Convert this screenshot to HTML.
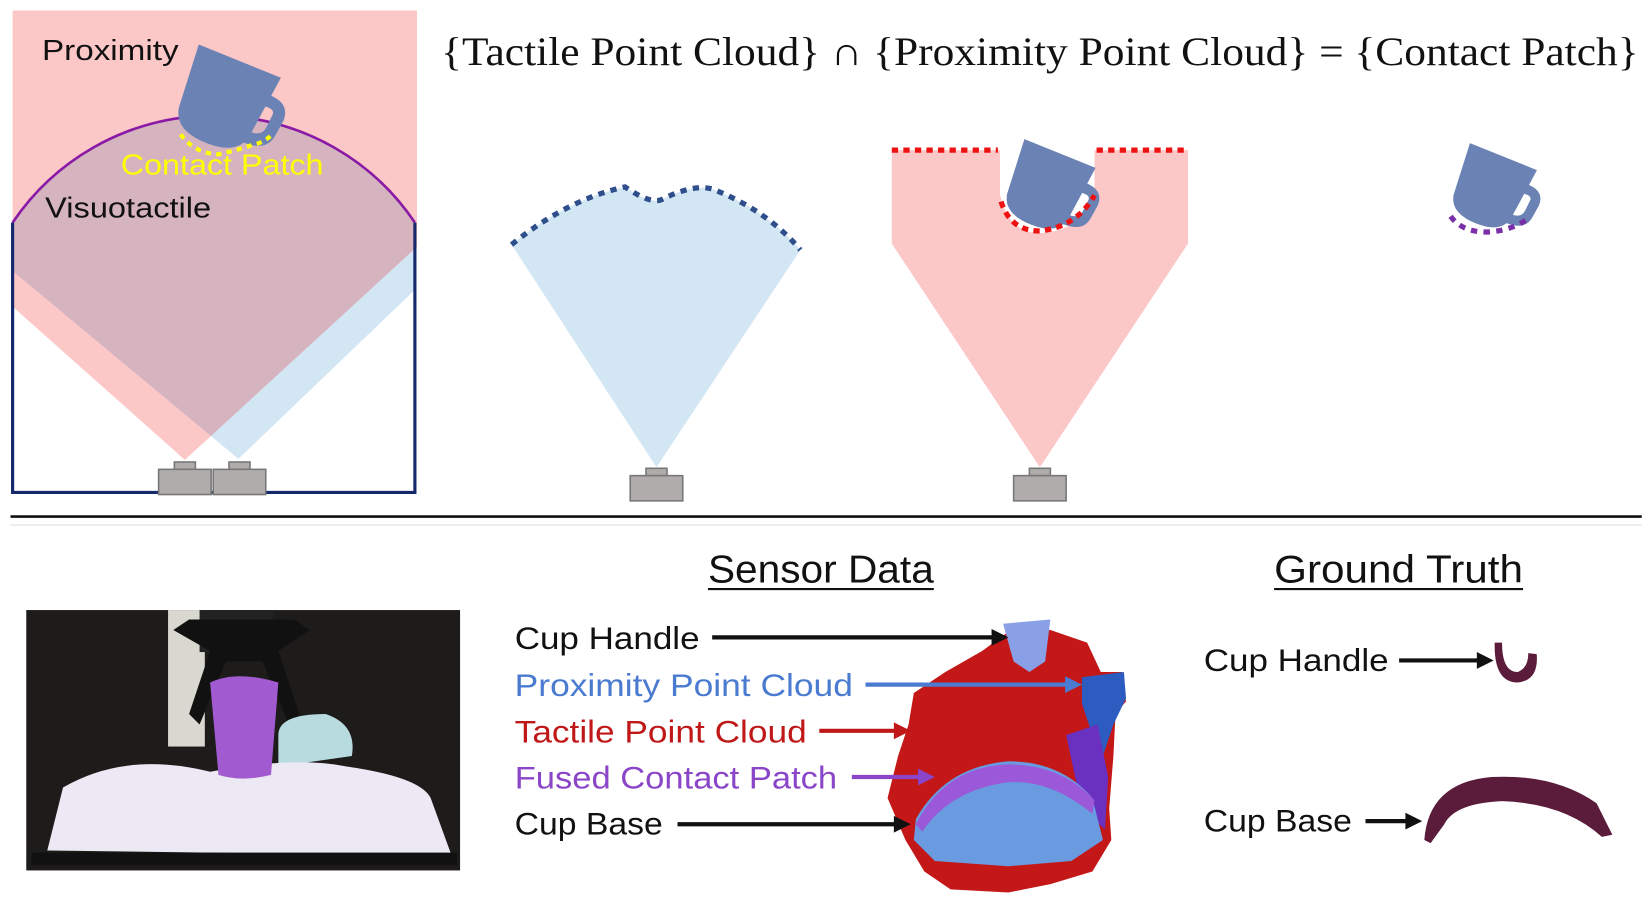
<!DOCTYPE html>
<html><head><meta charset="utf-8"><style>
html,body{margin:0;padding:0;background:#fff;}
svg{display:block;}
text{font-family:"Liberation Sans",sans-serif;}
</style></head><body>
<svg width="1647" height="903" viewBox="0 0 1568 860" preserveAspectRatio="none" xmlns="http://www.w3.org/2000/svg">
<defs>
<g id="mug">
  <path d="M-42 -42 L44 -42 L37 22 Q33 44 0 44 Q-33 44 -37 22 Z" fill="#6b82b4"/>
  <path d="M36 -22 Q62 -24 62 -4 L60 12 Q58 30 34 30 L36 18 Q48 18 49 8 L50 -6 Q50 -12 38 -10 Z" fill="#6b82b4"/>
</g>
<g id="sensor">
  <rect x="-10" y="-8" width="20" height="7" fill="#b0acac" stroke="#777" stroke-width="1.5"/>
  <rect x="-25" y="-1" width="50" height="24" fill="#b0acac" stroke="#777" stroke-width="1.5"/>
</g>
<clipPath id="pinkclip"><path d="M12 10 H397 V235 L176 438 L12 292 Z"/></clipPath>
</defs>

<path d="M227 437 L12 258 V212 A230.8 230.8 0 0 1 395 212 V276 Z" fill="#d3e6f4"/>
<path d="M12 10 H397 V235 L176 438 L12 292 Z" fill="#fcc7c7"/>
<path d="M227 437 L12 258 V212 A230.8 230.8 0 0 1 395 212 V276 Z" fill="#d5b4c0" clip-path="url(#pinkclip)"/>
<path d="M12 212 A230.8 230.8 0 0 1 395 212" fill="none" stroke="#8a1aa6" stroke-width="2.5"/>
<path d="M12 212 V469 H395 V212" fill="none" stroke="#13296b" stroke-width="3"/>
<g transform="translate(212,96) rotate(22) scale(0.98)"><use href="#mug"/></g>
<path d="M172 128 Q185 146 208 147 Q230 142 240 138 Q252 136 260 127" fill="none" stroke="#ffff00" stroke-width="4" stroke-dasharray="5 5"/>
<use href="#sensor" transform="translate(176,448)"/>
<use href="#sensor" transform="translate(228,448)"/>
<text x="40" y="57" font-size="27" fill="#111" textLength="130" lengthAdjust="spacingAndGlyphs">Proximity</text>
<text x="115" y="166" font-size="27" fill="#ffff00" textLength="193" lengthAdjust="spacingAndGlyphs">Contact Patch</text>
<text x="43" y="207" font-size="27" fill="#111" textLength="158" lengthAdjust="spacingAndGlyphs">Visuotactile</text>

<text x="420" y="62" font-size="38" fill="#111" style="font-family:'Liberation Serif',serif" textLength="1140" lengthAdjust="spacingAndGlyphs">{Tactile Point Cloud} ∩ {Proximity Point Cloud} = {Contact Patch}</text>

<path d="M625 445 L487 233 Q540 190 595 178 Q620 195 630 190 Q660 175 678 180 Q730 200 762 238 Z" fill="#d3e6f4"/>
<path d="M487 233 Q540 190 595 178 Q620 195 630 190 Q660 175 678 180 Q730 200 762 238" fill="none" stroke="#2f4f8c" stroke-width="5" stroke-dasharray="6 6"/>
<use href="#sensor" transform="translate(625,454)"/>

<path d="M849 143 H952 V185 Q960 222 990 222 Q1030 220 1042 185 V143 H1131 V232 L990 445 L849 232 Z" fill="#fcc7c7"/>
<path d="M849 143 H950 M1044 143 H1131" stroke="#ee1111" stroke-width="5" stroke-dasharray="6 5"/>
<g transform="translate(995,179) rotate(22) scale(0.85)"><use href="#mug"/></g>
<path d="M953 192 Q962 220 990 220 Q1025 216 1042 186" fill="none" stroke="#ee1111" stroke-width="5" stroke-dasharray="6 5"/>
<use href="#sensor" transform="translate(990,454)"/>

<g transform="translate(1418,180) rotate(22) scale(0.8)"><use href="#mug"/></g>
<path d="M1381 206 Q1392 221 1415 221 Q1440 220 1456 207" fill="none" stroke="#7a2fa8" stroke-width="5" stroke-dasharray="6 6"/>

<line x1="10" y1="492" x2="1563" y2="492" stroke="#111" stroke-width="2.5"/>
<line x1="10" y1="500" x2="1563" y2="500" stroke="#ddd" stroke-width="1"/>

<rect x="25" y="581" width="413" height="248" fill="#1e1c1b"/>
<rect x="160" y="581" width="35" height="130" fill="#d8d8d0"/>
<rect x="190" y="581" width="70" height="40" fill="#222"/>
<path d="M165 600 L200 620 L180 680 L190 690 L215 630 L250 630 L275 690 L285 680 L265 620 L295 600 L280 590 L180 590 Z" fill="#111"/>
<path d="M265 700 Q265 680 310 680 Q340 690 335 720 L265 730 Z" fill="#b8dbe0"/>
<path d="M45 810 L60 750 Q120 715 200 735 Q280 720 330 730 Q400 740 410 760 L430 815 Z" fill="#ece8f4"/>
<path d="M200 650 Q225 638 265 650 L258 738 Q230 745 208 738 Z" fill="#a25ad0"/>
<rect x="30" y="812" width="405" height="12" fill="#111"/>

<text x="674" y="555" font-size="37" fill="#111" textLength="215" lengthAdjust="spacingAndGlyphs">Sensor Data</text>
<line x1="674" y1="561" x2="889" y2="561" stroke="#111" stroke-width="2"/>
<text x="1213" y="555" font-size="37" fill="#111" textLength="237" lengthAdjust="spacingAndGlyphs">Ground Truth</text>
<line x1="1213" y1="561" x2="1450" y2="561" stroke="#111" stroke-width="2"/>

<path d="M965 598 L1000 600 L1035 612 L1048 640 L1068 640 L1072 668 L1062 680 L1060 720 L1056 770 L1058 800 L1040 830 L1000 842 L960 850 L905 847 L880 830 L862 800 L845 760 L855 720 L865 690 L870 660 L900 640 L935 620 Z" fill="#c41717"/>
<path d="M955 594 L1000 590 L995 630 L980 640 L965 630 Z" fill="#8aa0e6"/>
<path d="M1030 645 L1070 640 L1072 665 L1060 690 L1050 720 L1040 700 L1030 670 Z" fill="#2c5cc0"/>
<path d="M1015 700 L1045 690 L1055 740 L1052 790 L1030 770 Z" fill="#6a30c0"/>
<path d="M872 780 Q900 730 960 725 Q1010 725 1040 760 L1050 800 L1020 820 L960 825 L890 820 L870 800 Z" fill="#6a9ae0"/>
<path d="M872 785 Q900 730 960 728 Q1010 728 1042 762 L1040 775 Q1000 742 960 745 Q905 752 878 792 Z" fill="#9b58d8"/>

<text x="490" y="618" font-size="30" fill="#111" textLength="176" lengthAdjust="spacingAndGlyphs">Cup Handle</text>
<line x1="678" y1="607" x2="945" y2="607" stroke="#111" stroke-width="4"/>
<path d="M960 607 L944 599 L944 615 Z" fill="#111"/>
<text x="490" y="663" font-size="30" fill="#4a7bd0" textLength="322" lengthAdjust="spacingAndGlyphs">Proximity Point Cloud</text>
<line x1="824" y1="652" x2="1015" y2="652" stroke="#4a7bd0" stroke-width="4"/>
<path d="M1030 652 L1014 644 L1014 660 Z" fill="#4a7bd0"/>
<text x="490" y="707" font-size="30" fill="#c01818" textLength="278" lengthAdjust="spacingAndGlyphs">Tactile Point Cloud</text>
<line x1="780" y1="696" x2="852" y2="696" stroke="#c01818" stroke-width="4"/>
<path d="M867 696 L851 688 L851 704 Z" fill="#c01818"/>
<text x="490" y="751" font-size="30" fill="#8a45c8" textLength="307" lengthAdjust="spacingAndGlyphs">Fused Contact Patch</text>
<line x1="811" y1="740" x2="875" y2="740" stroke="#8a45c8" stroke-width="4"/>
<path d="M890 740 L874 732 L874 748 Z" fill="#8a45c8"/>
<text x="490" y="795" font-size="30" fill="#111" textLength="141" lengthAdjust="spacingAndGlyphs">Cup Base</text>
<line x1="645" y1="785" x2="852" y2="785" stroke="#111" stroke-width="4"/>
<path d="M867 785 L851 777 L851 793 Z" fill="#111"/>

<text x="1146" y="639" font-size="30" fill="#111" textLength="176" lengthAdjust="spacingAndGlyphs">Cup Handle</text>
<line x1="1332" y1="629" x2="1408" y2="629" stroke="#111" stroke-width="4"/>
<path d="M1422 629 L1406 621 L1406 637 Z" fill="#111"/>
<path d="M1423 612 L1430 612 Q1430 640 1445 640 Q1455 636 1455 622 L1463 623 Q1465 648 1445 650 Q1422 650 1423 612 Z" fill="#5a1c3a"/>
<text x="1146" y="792" font-size="30" fill="#111" textLength="141" lengthAdjust="spacingAndGlyphs">Cup Base</text>
<line x1="1300" y1="782" x2="1340" y2="782" stroke="#111" stroke-width="4"/>
<path d="M1354 782 L1338 774 L1338 790 Z" fill="#111"/>
<path d="M1356 800 Q1360 745 1420 740 Q1480 737 1520 765 L1535 795 L1525 797 Q1490 765 1430 763 Q1385 765 1375 785 L1362 803 Z" fill="#5a1c3a"/>
</svg>
</body></html>
